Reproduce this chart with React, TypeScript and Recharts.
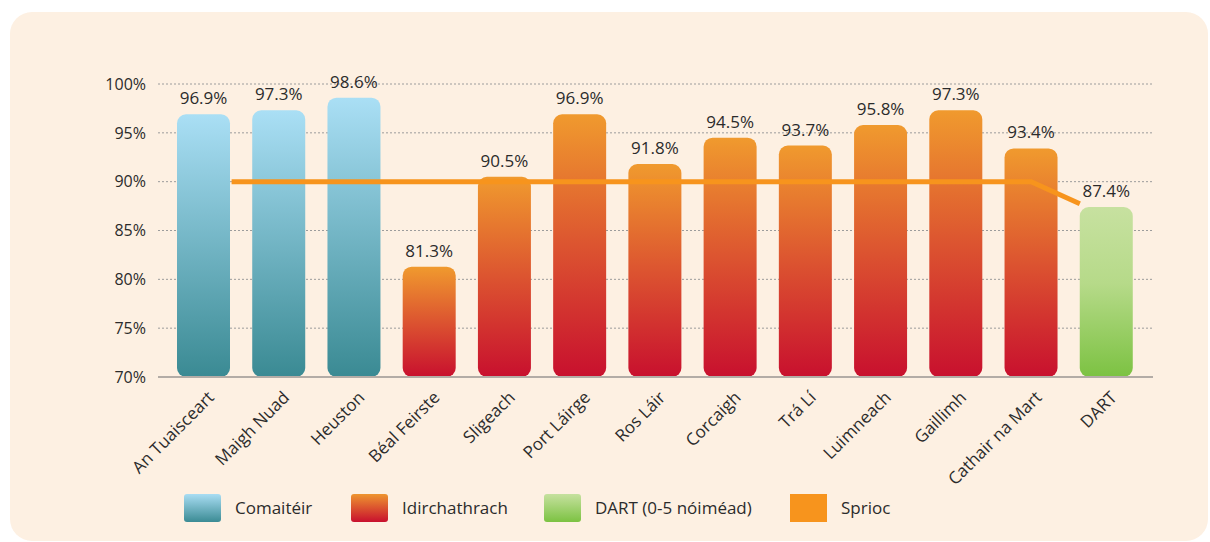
import {
  BarChart,
  Bar,
  Line,
  XAxis,
  YAxis,
  CartesianGrid,
  Cell,
  LabelList,
} from "recharts"

const categories = [
  "An Tuaisceart",
  "Maigh Nuad",
  "Heuston",
  "Béal Feirste",
  "Sligeach",
  "Port Láirge",
  "Ros Láir",
  "Corcaigh",
  "Trá Lí",
  "Luimneach",
  "Gaillimh",
  "Cathair na Mart",
  "DART",
]

const punctuality = [96.9, 97.3, 98.6, 81.3, 90.5, 96.9, 91.8, 94.5, 93.7, 95.8, 97.3, 93.4, 87.4]

const groups = [
  "com", "com", "com",
  "idir", "idir", "idir", "idir", "idir", "idir", "idir", "idir", "idir",
  "dart",
]

const target = [90, 90, 90, 90, 90, 90, 90, 90, 90, 90, 90, 90, 86.5]

const yTicks = [70, 75, 80, 85, 90, 95, 100]

const legendItems = [
  { label: "Comaitéir", bg: "linear-gradient(#a9ddf3, #3b8b94)", radius: 3 },
  { label: "Idirchathrach", bg: "linear-gradient(#ee952f, #c8102e)", radius: 3 },
  { label: "DART (0-5 nóiméad)", bg: "linear-gradient(#c6e19f, #7cc242)", radius: 3 },
  { label: "Sprioc", bg: "#f7941d", radius: 0 },
]

const data = categories.map((name, i) => ({
  name,
  value: punctuality[i],
  group: groups[i],
  target: target[i],
}))

const FONT = "'Open Sans', sans-serif"

function AngledTick(props: any) {
  const { x, y, payload } = props
  return (
    <g transform={`translate(${x + 8},${y + 10})`}>
      <text
        textAnchor="end"
        transform="rotate(-45)"
        fill="#2b2b2b"
        fontSize={17}
        fontFamily={FONT}
        dy={5}
      >
        {payload.value}
      </text>
    </g>
  )
}

export default function App() {
  return (
    <div style={{ position: "absolute", left: 0, top: 0, width: 1210, height: 542, background: "#fff" }}>
      <div
        style={{
          position: "absolute",
          left: 10,
          top: 12,
          width: 1198,
          height: 529,
          borderRadius: 22,
          background: "#fdf0e2",
        }}
      />
      <div style={{ position: "absolute", left: 0, top: 0 }}>
        <BarChart
          width={1210}
          height={542}
          data={data}
          margin={{ top: 84, right: 57, bottom: 55, left: 98 }}
          barSize={53}
        >
          <defs>
            <linearGradient id="gCom" x1="0" y1="0" x2="0" y2="1">
              <stop offset="0%" stopColor="#aadff5" />
              <stop offset="100%" stopColor="#3a8a93" />
            </linearGradient>
            <linearGradient id="gIdir" x1="0" y1="0" x2="0" y2="1">
              <stop offset="0%" stopColor="#f09a2e" />
              <stop offset="50%" stopColor="#dc5430" />
              <stop offset="100%" stopColor="#c8102e" />
            </linearGradient>
            <linearGradient id="gDart" x1="0" y1="0" x2="0" y2="1">
              <stop offset="0%" stopColor="#c7e1a0" />
              <stop offset="45%" stopColor="#b6da89" />
              <stop offset="100%" stopColor="#7cc242" />
            </linearGradient>
          </defs>
          <CartesianGrid vertical={false} strokeDasharray="2 2" stroke="#9c9c9c" />
          <XAxis
            dataKey="name"
            interval={0}
            height={110}
            padding={{ left: 8, right: 9 }}
            tickLine={false}
            axisLine={{ stroke: "#b3aca6", strokeWidth: 2 }}
            tick={<AngledTick />}
          />
          <YAxis
            domain={[70, 100]}
            ticks={yTicks}
            width={60}
            axisLine={false}
            tickLine={false}
            tickSize={0}
            tickMargin={12}
            tickFormatter={(v: number) => `${v}%`}
            tick={{ fill: "#2b2b2b", fontSize: 16, fontFamily: FONT }}
          />
          <Bar dataKey="value" radius={[9, 9, 9, 9]} isAnimationActive={false}>
            {data.map((d, i) => (
              <Cell
                key={i}
                fill={d.group === "com" ? "url(#gCom)" : d.group === "idir" ? "url(#gIdir)" : "url(#gDart)"}
              />
            ))}
            <LabelList
              dataKey="value"
              position="top"
              offset={10}
              fill="#2b2b2b"
              fontSize={17}
              fontFamily={FONT}
              formatter={(v: any) => `${v}%`}
            />
          </Bar>
          <Line
            dataKey="target"
            stroke="#f7941d"
            strokeWidth={5}
            dot={false}
            activeDot={false}
            strokeDasharray="0 28 853 3000"
            isAnimationActive={false}
          />
        </BarChart>
      </div>
      {legendItems.map((item, i) => {
        const boxX = [184, 351, 544, 790][i]
        return (
          <div key={item.label}>
            <div
              style={{
                position: "absolute",
                left: boxX,
                top: 494,
                width: 37,
                height: 28,
                borderRadius: item.radius,
                background: item.bg,
              }}
            />
            <div
              style={{
                position: "absolute",
                left: boxX + 51,
                top: 496,
                lineHeight: "24px",
                fontSize: 17,
                fontFamily: FONT,
                color: "#2b2b2b",
                whiteSpace: "nowrap",
              }}
            >
              {item.label}
            </div>
          </div>
        )
      })}
    </div>
  )
}
